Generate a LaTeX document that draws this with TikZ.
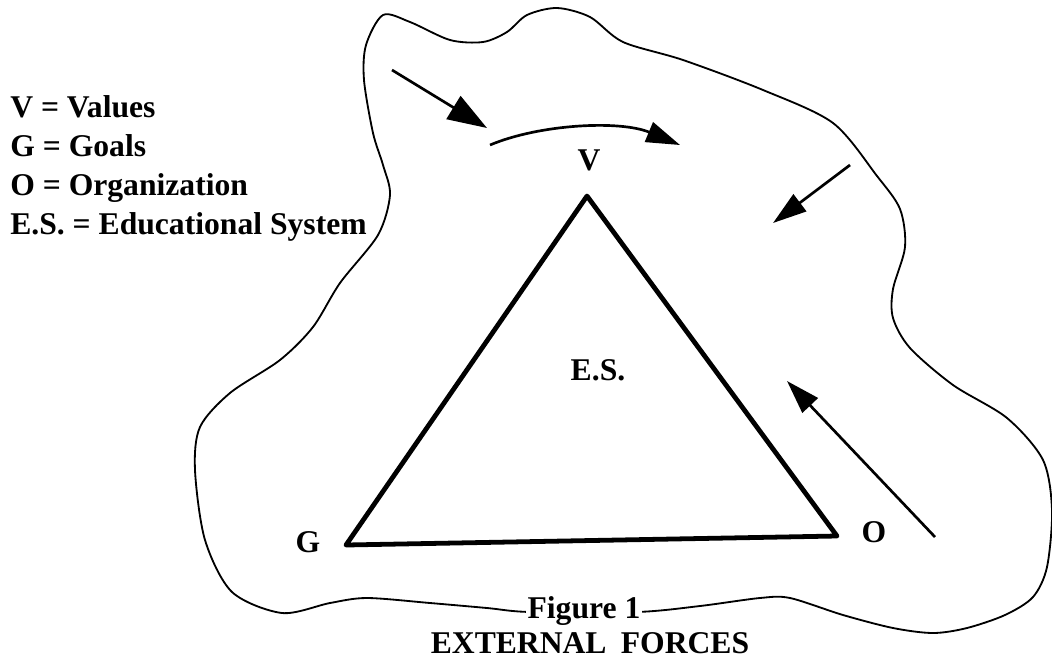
\documentclass[tikz,border=0pt]{standalone}
\usepackage{fontspec}
\setmainfont{Liberation Serif}
\usetikzlibrary{arrows.meta}

\begin{document}
\begin{tikzpicture}[x=0.025cm,y=-0.025cm,
  blob/.style={line width=1.3pt,line join=round},
  side/.style={line width=3.4pt,line join=round},
  force/.style={line width=1.9pt,-{Triangle[length=24pt,width=15pt]}},
  lbl/.style={font=\fontsize{22.5}{27}\selectfont\bfseries,inner sep=0pt,anchor=base}]

  \useasboundingbox (0,0) rectangle (1052,660);

  % the environment round the system
  \draw[blob] plot[smooth cycle,tension=0.5] coordinates {
    (383,15) (410,22) (450,40) (483,42) (507,32) (527,15) (557,8) (590,17)
    (623,42) (683,60) (763,90) (833,123) (877,176) (900,209) (905,247)
    (893,289) (893,318) (910,348) (953,385) (1007,418) (1043,460) (1052,510)
    (1047,567) (1033,597) (1005,615) (967,628) (933,633) (893,628) (843,615)
    (790,598) (760,598) (700,606) (637,612) (530,612) (487,608) (430,603)
    (367,598) (330,603) (282,613) (232,592) (205,540) (195,470) (200,427)
    (230,393) (280,360) (313,327) (340,283) (378,235) (390,195) (383,165)
    (373,133) (364,80) (366,45)};

  \coordinate (v) at (587,196);
  \coordinate (g) at (346,545);
  \coordinate (o) at (837,536);
  \draw[side] (v) -- (g) -- (o) -- cycle;

  \node[lbl] (vlab) at (589,170) {V};
  \node[lbl] (glab) at (308,552) {G};
  \node[lbl] (olab) at (874,542) {O};
  \node[lbl] (es)   at (598,380) {E.S.};

  \foreach \t [count=\i] in {V = Values, G = Goals, O = Organization,
      E.S. = Educational System} {
    \node[lbl,anchor=base west] (key\i) at (10,78+39*\i) {\t};
  }

  % forces from outside
  \coordinate (f1) at (392,70);  \coordinate (t1) at (487,128);
  \coordinate (f2) at (490,145); \coordinate (t2) at (680,145);
  \coordinate (f3) at (850,165); \coordinate (t3) at (773,223);
  \coordinate (f4) at (935,537); \coordinate (t4) at (787,381);

  \draw[force,-{Triangle[length=28pt,width=19pt]}] (f1) -- (t1);
  \draw[force] (f2) .. controls (540,124) and (620,120) .. (t2);
  \draw[force] (f3) -- (t3);
  \draw[force] (f4) -- (t4);

  \node[lbl,fill=white,inner sep=1pt] (fig) at (584,618) {Figure 1};
  \node[lbl] (title) at (590,653) {EXTERNAL\hspace{0.45em}FORCES};

\end{tikzpicture}
\end{document}
